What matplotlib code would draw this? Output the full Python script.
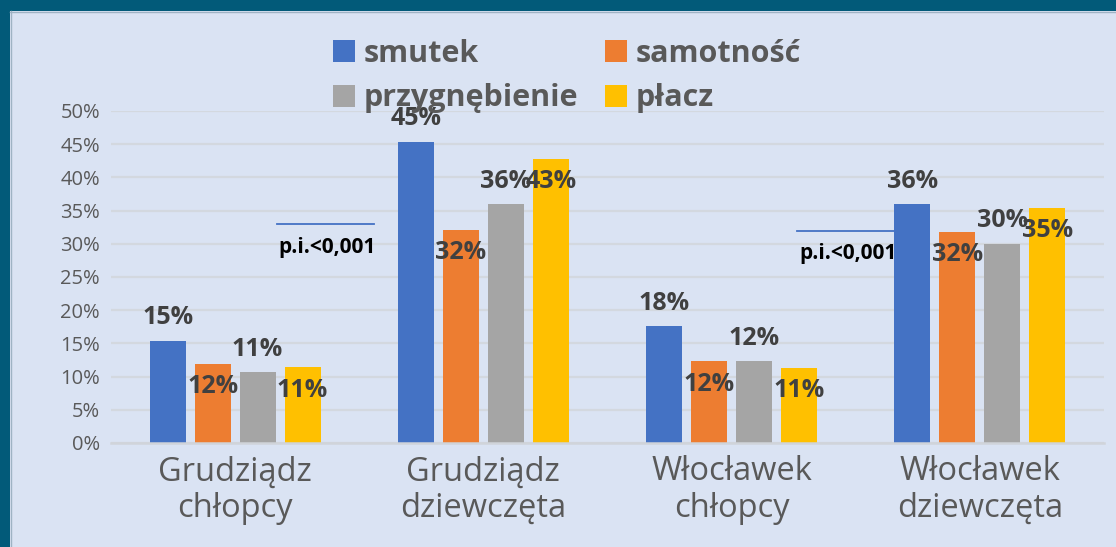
import matplotlib
matplotlib.use("Agg")
import matplotlib.pyplot as plt
from matplotlib.patches import Rectangle, Patch
import numpy as np

categories = ["Grudziądz\nchłopcy", "Grudziądz\ndziewczęta", "Włocławek\nchłopcy", "Włocławek\ndziewczęta"]
series_names = ["smutek", "samotność", "przygnębienie", "płacz"]
smutek = [15.4, 45.4, 17.6, 36.0]
samotnosc = [11.9, 32.1, 12.3, 31.8]
przygnebienie = [10.7, 36.0, 12.3, 30.0]
placz = [11.4, 42.8, 11.3, 35.4]
yticks = [0, 5, 10, 15, 20, 25, 30, 35, 40, 45, 50]
note_text = "p.i.<0,001"

series = [smutek, samotnosc, przygnebienie, placz]
colors = ["#4472C4", "#ED7D31", "#A5A5A5", "#FFC000"]
label_side = [1, -1, 1, -1]  # above / inside

BG = "#DAE3F3"
TEAL = "#025A79"
TXT = "#595959"
LBL = "#404040"

W, H = 1116, 547
fig = plt.figure(figsize=(W / 100, H / 100), dpi=100, facecolor=BG)
ax = fig.add_axes([111 / W, 1 - 443 / H, (1104 - 111) / W, (443 - 111) / H])
ax.set_facecolor(BG)

x = np.arange(len(categories))
step = 0.181
width = 0.145
for j, (vals, col) in enumerate(zip(series, colors)):
    bars = ax.bar(x + (j - 1.5) * step, vals, width, color=col, zorder=3, label=series_names[j])
    for rect, v in zip(bars, vals):
        ax.annotate(f"{round(v):d}%", xy=(rect.get_x() + rect.get_width() / 2, rect.get_height()),
                    xytext=(0, 16.5 * label_side[j]), textcoords="offset points",
                    ha="center", va="center", fontsize=18, fontweight="bold",
                    color=LBL, family="Open Sans", zorder=5)

ax.set_xlim(-0.5, 3.5)
ax.set_ylim(0, 50)
ax.set_yticks(yticks)
ax.set_yticklabels([f"{t}%" for t in yticks], family="Open Sans", fontsize=14.5, color=TXT)
ax.set_xticks(x)
ax.set_xticklabels(categories, family="Open Sans", fontsize=23.5, color=TXT, linespacing=1.15)
ax.tick_params(axis="y", length=0, pad=8)
ax.tick_params(axis="x", length=0, pad=9)
ax.grid(axis="y", color="#D3D8DF", linewidth=1.6, zorder=0)
for s in ["top", "right", "left"]:
    ax.spines[s].set_visible(False)
ax.spines["bottom"].set_color("#D0D4DA")
ax.spines["bottom"].set_linewidth(1.8)
ax.spines["bottom"].set_zorder(4)

# significance notes
ax.plot([0.169, 0.560], [33.0, 33.0], color="#4472C4", linewidth=1.3, zorder=4)
ax.text(0.173, 29.5, note_text, fontsize=15, fontweight="bold", family="Open Sans",
        color="black", ha="left", va="center", zorder=5)
ax.plot([2.264, 2.655], [31.9, 31.9], color="#4472C4", linewidth=1.3, zorder=4)
ax.text(2.272, 28.5, note_text, fontsize=15, fontweight="bold", family="Open Sans",
        color="black", ha="left", va="center", zorder=5)

# legend: row-wise order (smutek, samotność / przygnębienie, płacz)
order = [0, 2, 1, 3]
leg = fig.legend(handles=[Patch(facecolor=colors[i]) for i in order],
                 labels=[series_names[i] for i in order],
                 ncol=2, loc="center", bbox_to_anchor=(567 / W, 1 - 76 / H),
                 frameon=False, handlelength=0.72, handleheight=0.72, handletextpad=0.28,
                 columnspacing=0.9, labelspacing=0.48,
                 prop={"family": "Open Sans", "weight": "bold", "size": 22})
for t in leg.get_texts():
    t.set_color(TXT)

# frame
fig.patches.append(Rectangle((0, 1 - 11 / H), 1, 11 / H, transform=fig.transFigure,
                             facecolor=TEAL, edgecolor="none", zorder=10))
fig.patches.append(Rectangle((0, 0), 10 / W, 1, transform=fig.transFigure,
                             facecolor=TEAL, edgecolor="none", zorder=10))
fig.lines.append(plt.Line2D([10 / W, 1], [1 - 11.5 / H, 1 - 11.5 / H], transform=fig.transFigure,
                            color="#9FB3C4", linewidth=1, zorder=11))
fig.lines.append(plt.Line2D([10.5 / W, 10.5 / W], [0, 1 - 11 / H], transform=fig.transFigure,
                            color="#9FB3C4", linewidth=1, zorder=11))

fig.savefig("out.png", dpi=100, facecolor=BG)
